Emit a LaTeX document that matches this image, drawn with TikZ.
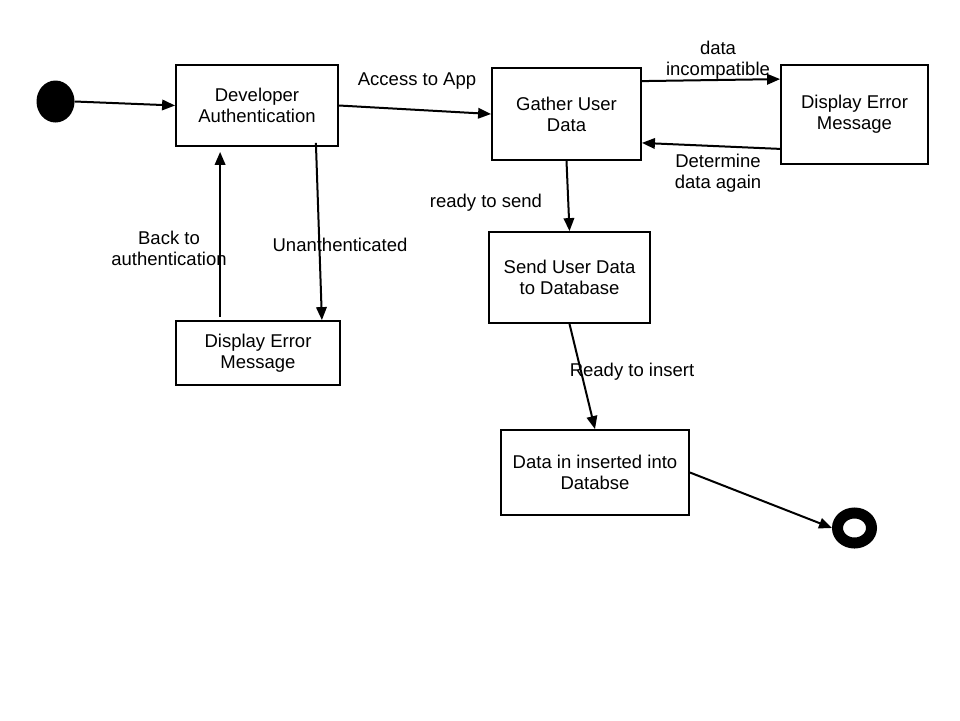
\documentclass[tikz,border=0pt]{standalone}
\usepackage{fontspec}
\setmainfont{Liberation Sans}
\usetikzlibrary{shapes.geometric,arrows.meta,calc}
\begin{document}
\begin{tikzpicture}[x=1pt,y=-1pt,
  every node/.style={font=\fontsize{18.5}{21}\selectfont},
  state/.style={draw,line width=1.8pt,inner sep=0pt,align=center},
  lbl/.style={inner sep=0pt,align=center},
  arr/.style={line width=2pt,-{Triangle[length=13pt,width=10.5pt]}}]
\useasboundingbox (0,0) rectangle (960,720);
\node[ellipse,fill=black,minimum width=38pt,minimum height=42pt,inner sep=0pt] (start) at (55.5,101.5) {};
\node[state,minimum width=162pt,minimum height=81pt] (dev) at (257,105.5) {Developer\\Authentication};
\node[state,minimum width=149pt,minimum height=92pt] (gather) at (566.5,114) {Gather User\\Data};
\node[state,minimum width=147pt,minimum height=99pt] (errR) at (854.5,114.5) {Display Error\\Message};
\node[state,minimum width=164pt,minimum height=64pt] (errL) at (258,353) {Display Error\\Message};
\node[state,minimum width=161pt,minimum height=91pt] (send) at (569.5,277.5) {Send User Data\\to Database};
\node[state,minimum width=188pt,minimum height=85pt] (ins) at (595,472.5) {Data in inserted into\\Databse};
\node[ellipse,draw,fill=white,line width=11pt,minimum width=34pt,minimum height=30pt,inner sep=0pt] (end) at (854.5,528) {};

\draw[arr] (start.east) -- (dev.west);
\draw[arr] (dev.east) -- (gather.west);
\draw[arr] ($(gather.north east)+(0,14)$) -- ($(errR.north west)+(0,15)$);
\draw[arr] ($(errR.south west)+(0,-16)$) -- ($(gather.south east)+(0,-18)$);
\draw[arr] (gather.south) -- (send.north);
\draw[arr] ($(dev.south east)+(-23,-4)$) -- ($(errL.north east)+(-19,0)$);
\draw[arr] ($(errL.north west)+(45,-3)$) -- ($(dev.south west)+(45,5)$);
\draw[arr] (send.south) -- (ins.north);
\draw[arr] (ins.east) -- (end.west);

\node[lbl] (l1) at (417,81) {Access to App};
\node[lbl] (l2) at (718,60) {data\\incompatible};
\node[lbl] (l3) at (718,173) {Determine\\data again};
\node[lbl] (l4) at (486,203) {ready to send};
\node[lbl] (l5) at (340,245) {Unanthenticated};
\node[lbl] (l6) at (169,248) {Back to\\authentication};
\node[lbl] (l7) at (632,372) {Ready to insert};
\end{tikzpicture}
\end{document}
